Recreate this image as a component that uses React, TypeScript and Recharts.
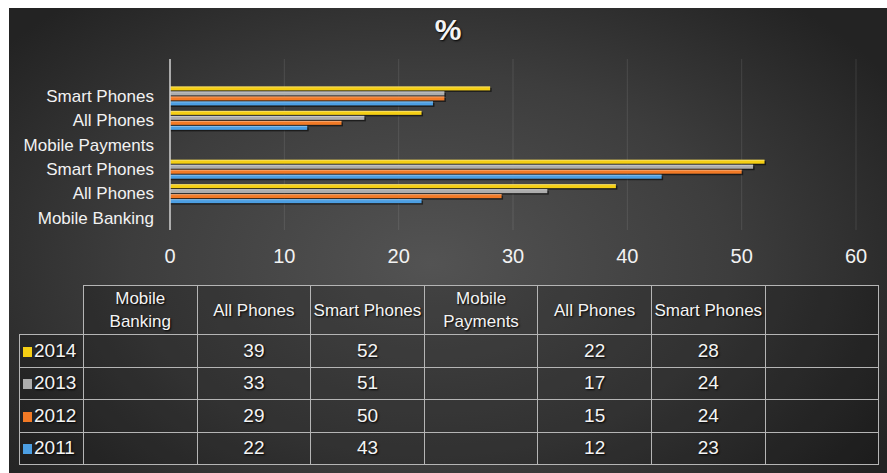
import React from "react";
import { BarChart, Bar, XAxis, YAxis, CartesianGrid } from "recharts";

// table / chart categories, left-to-right in the table, bottom-to-top in the chart
const categories = ["Mobile Banking", "All Phones", "Smart Phones", "Mobile Payments", "All Phones", "Smart Phones", ""];
const years = ["2014", "2013", "2012", "2011"];
const values2014 = [null, 39, 52, null, 22, 28, null];
const values2013 = [null, 33, 51, null, 17, 24, null];
const values2012 = [null, 29, 50, null, 15, 24, null];
const values2011 = [null, 22, 43, null, 12, 23, null];
const xTicks = [0, 10, 20, 30, 40, 50, 60];

const colors: Record<string, string> = {
  "2014": "#f5cf14",
  "2013": "#adadad",
  "2012": "#f27a26",
  "2011": "#4c9fe3",
};

const seriesValues: Record<string, (number | null)[]> = {
  "2014": values2014,
  "2013": values2013,
  "2012": values2012,
  "2011": values2011,
};

const rows = categories
  .map((name, i) => {
    const row: Record<string, string | number | null> = { id: `c${i}`, name };
    years.forEach((y) => (row[`y${y}`] = seriesValues[y][i]));
    return row;
  })
  .reverse();

const labelFor = (id: string) => String(rows.find((r) => r.id === id)?.name ?? "");

const font = "'Liberation Sans', Arial, sans-serif";

const BarShape = (props: any) => {
  const { x, y, width, height, fill } = props;
  if (!width || width <= 0) return null;
  return (
    <g>
      <rect x={x} y={y + 1.5} width={width + 1.5} height={height} fill="rgba(0,0,0,0.55)" />
      <rect x={x} y={y} width={width} height={height} fill={fill} />
      <rect x={x} y={y} width={width} height={1} fill="rgba(255,255,255,0.35)" />
    </g>
  );
};

const cellBorder = "1.5px solid #b5b5b5";
const colW = 113.6;

export default function App() {
  return (
    <div
      style={{
        position: "absolute",
        left: 9,
        top: 8,
        width: 878,
        height: 465,
        overflow: "hidden",
        fontFamily: font,
        background:
          "radial-gradient(ellipse 62% 75% at 48% 55%, #535353 0%, #3d3d3d 55%, #232323 100%)",
      }}
    >
      <div
        style={{
          position: "absolute",
          left: 0,
          width: 878,
          top: 5,
          lineHeight: "34px",
          textAlign: "center",
          color: "#f4f4f4",
          fontSize: 30,
          fontWeight: "bold",
          textShadow: "1px 1px 2px #000",
        }}
      >
        %
      </div>
      <div style={{ position: "absolute", left: 0, top: 0 }}>
        <BarChart
          width={878}
          height={262}
          data={rows}
          layout="vertical"
          margin={{ top: 51, right: 31, bottom: 0, left: 0 }}
          barSize={4}
          barGap={1}
        >
          <CartesianGrid horizontal={false} stroke="rgba(255,255,255,0.1)" strokeWidth={1} />
          <XAxis
            type="number"
            domain={[0, 60]}
            ticks={xTicks}
            interval={0}
            axisLine={false}
            tickLine={false}
            tickSize={0}
            tickMargin={19}
            height={40}
            tick={{ fill: "#f2f2f2", fontSize: 20, fontFamily: font }}
          />
          <YAxis
            type="category"
            dataKey="id"
            width={161}
            interval={0}
            axisLine={{ stroke: "#cfcfcf", strokeWidth: 1.5 }}
            tickLine={false}
            tickSize={0}
            tickMargin={16}
            tickFormatter={labelFor}
            tick={{ fill: "#f2f2f2", fontSize: 17, fontFamily: font }}
          />
          {years.map((y) => (
            <Bar
              key={y}
              dataKey={`y${y}`}
              fill={colors[y]}
              shape={BarShape}
              isAnimationActive={false}
            />
          ))}
        </BarChart>
      </div>
      <table
        style={{
          position: "absolute",
          left: 10,
          top: 277,
          borderCollapse: "collapse",
          tableLayout: "fixed",
          width: 64 + colW * 7,
          color: "#f4f4f4",
          fontFamily: font,
          textShadow: "1px 1px 2px #000",
        }}
      >
        <colgroup>
          <col style={{ width: 64 }} />
          {categories.map((_, i) => (
            <col key={i} style={{ width: colW }} />
          ))}
        </colgroup>
        <thead>
          <tr style={{ height: 49 }}>
            <th style={{ border: "none" }} />
            {categories.map((c, i) => (
              <th
                key={i}
                style={{
                  border: cellBorder,
                  fontWeight: "normal",
                  fontSize: 17,
                  lineHeight: "23px",
                  padding: 0,
                  whiteSpace: "nowrap",
                  background: "rgba(0,0,0,0.18)",
                }}
              >
                {c === "Mobile Banking" ? (
                  <>Mobile<br />Banking</>
                ) : c === "Mobile Payments" ? (
                  <>Mobile<br />Payments</>
                ) : (
                  c
                )}
              </th>
            ))}
          </tr>
        </thead>
        <tbody>
          {years.map((y) => (
            <tr key={y} style={{ height: 32.5 }}>
              <td
                style={{
                  border: cellBorder,
                  fontSize: 19,
                  padding: "0 0 0 3px",
                  background: "rgba(0,0,0,0.18)",
                  whiteSpace: "nowrap",
                  overflow: "hidden",
                }}
              >
                <span
                  style={{
                    display: "inline-block",
                    width: 9,
                    height: 10,
                    background: colors[y],
                    marginRight: 2,
                  }}
                />
                {y}
              </td>
              {categories.map((_, i) => (
                <td
                  key={i}
                  style={{
                    border: cellBorder,
                    textAlign: "center",
                    fontSize: 19,
                    padding: 0,
                    background: "rgba(0,0,0,0.18)",
                  }}
                >
                  {seriesValues[y][i] ?? ""}
                </td>
              ))}
            </tr>
          ))}
        </tbody>
      </table>
    </div>
  );
}
